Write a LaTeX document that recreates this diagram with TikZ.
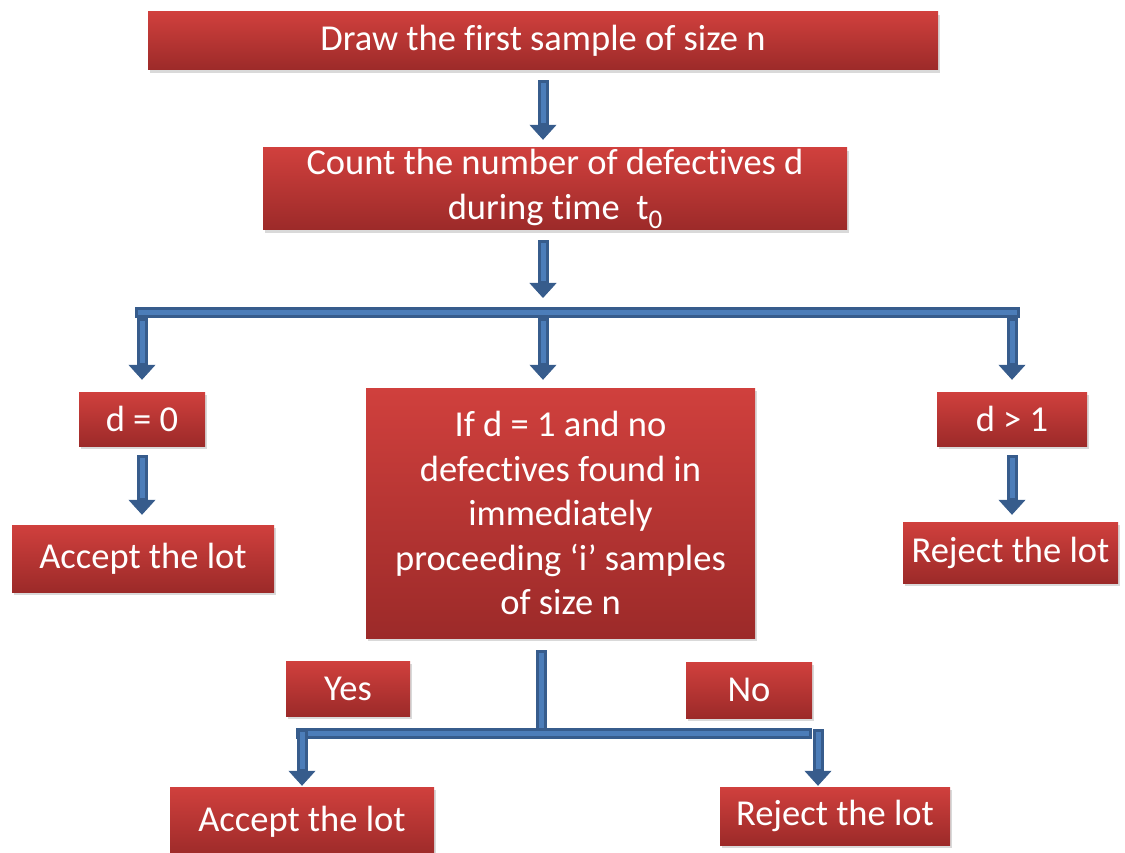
\documentclass[tikz,border=0pt]{standalone}
\usepackage{fontspec}
\setmainfont[Ligatures={NoCommon,NoRequired,NoContextual}, RawFeature={-liga;-clig;-calt}]{Carlito}
\usetikzlibrary{arrows.meta,shadows}
\definecolor{boxtop}{HTML}{D0403D}
\definecolor{boxbottom}{HTML}{9C2A29}
\definecolor{arrowfill}{HTML}{4C7DB9}
\definecolor{arrowedge}{HTML}{375C8C}
\tikzset{
  box/.style={rectangle, inner sep=0pt, align=center, text=white,
    top color=boxtop, bottom color=boxbottom,
    drop shadow={opacity=0.3, shadow xshift=1.5pt, shadow yshift=-3pt},
    font=\fontsize{36.5}{44.5}\selectfont},
  shaft/.style={draw=arrowedge, line width=11pt,
    postaction={draw=arrowfill, line width=5pt, shorten <=3pt, shorten >=3pt}},
  flow/.style={draw=arrowedge, line width=11pt,
    -{Triangle[length=15pt, width=27pt, line width=1pt]},
    postaction={draw=arrowfill, line width=5pt, -, shorten <=3pt, shorten >=17pt}}
}
\begin{document}
\begin{tikzpicture}[x=1pt, y=-1pt]
    \useasboundingbox (0,0) rectangle (1125,853);
    % boxes
    \node[box, minimum width=790pt, minimum height=58pt] (first) at (543,41) {Draw the first sample of size n};
    \node[box, minimum width=584pt, minimum height=82pt] (count) at (555,189) {Count the number of defectives d\\during time\ \ t\raisebox{-0.55ex}{\fontsize{27}{27}\selectfont 0}};
    \node[box, minimum width=126pt, minimum height=54pt] (zero) at (142,419) {d = 0};
    \node[box, minimum width=389pt, minimum height=250pt] (check) at (560.5,513) {If d = 1 and no\\defectives found in\\immediately\\proceeding ‘i’ samples\\of size n};
    \node[box, minimum width=150pt, minimum height=54pt] (more) at (1012,419) {d > 1};
    \node[box, minimum width=262pt, minimum height=67pt] (accept) at (143,558.5) {Accept the lot};
    \node[box, minimum width=215pt, minimum height=61pt] (reject) at (1010.5,552.5) {Reject the lot};
    \node[box, minimum width=124pt, minimum height=55pt] (yes) at (348,688.5) {Yes};
    \node[box, minimum width=126pt, minimum height=56pt] (no) at (749,690) {No};
    \node[box, minimum width=264pt, minimum height=70pt] (acceptb) at (302,822) {Accept the lot};
    \node[box, minimum width=230pt, minimum height=58pt] (rejectb) at (835,816) {Reject the lot};
    % upper split
    \coordinate (split) at (543,312);
    \coordinate (barw) at (135,312);
    \coordinate (bare) at (1020,312);
    \draw[flow] ([yshift=-10pt]first.south -| split) -- ([yshift=8pt]count.north -| split);
    \draw[flow] ([yshift=-10pt]count.south -| split) -- ([yshift=14pt]split);
    \draw[shaft] (barw) -- (bare);
    \draw[flow] ([yshift=-6pt]barw -| zero) -- ([yshift=12pt]zero.north);
    \draw[flow] ([yshift=-6pt]split) -- ([yshift=8pt]check.north -| split);
    \draw[flow] ([yshift=-6pt]bare -| more) -- ([yshift=12pt]more.north);
    \draw[flow] ([yshift=-9pt]zero.south) -- ([yshift=10pt]zero |- accept.north);
    \draw[flow] ([yshift=-9pt]more.south) -- ([yshift=7pt]more |- reject.north);
    % lower split
    \coordinate (join) at (541,733);
    \coordinate (joinw) at (302,733);
    \coordinate (joine) at (818,733);
    \draw[shaft] ([yshift=-12pt]check.south -| join) -- ([yshift=-4pt]join);
    \draw[shaft] ([xshift=-6pt]joinw) -- ([xshift=-6pt]joine);
    \draw[flow] ([yshift=4pt]joinw) -- ([yshift=1pt]joinw |- acceptb.north);
    \draw[flow] ([yshift=4pt]joine) -- ([yshift=1pt]joine |- rejectb.north);
\end{tikzpicture}
\end{document}
